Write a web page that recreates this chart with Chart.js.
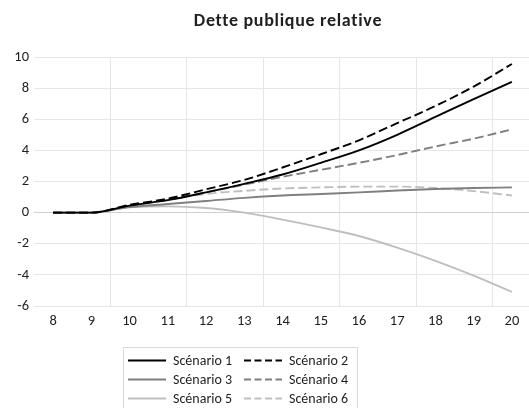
<!DOCTYPE html>
<html>
<head>
<meta charset="utf-8">
<script src="https://cdn.jsdelivr.net/npm/chart.js@4/dist/chart.umd.min.js"></script>
<style>
html,body{margin:0;padding:0;overflow:hidden;background:#fff;}
#wrap{position:absolute;left:0;top:0;width:576px;height:420px;}
</style>
</head>
<body>
<div id="wrap"><canvas id="c"></canvas></div>
<script>
const years = [8, 9, 10, 11, 12, 13, 14, 15, 16, 17, 18, 19, 20];
const seriesNames = ['Scénario 1', 'Scénario 2', 'Scénario 3', 'Scénario 4', 'Scénario 5', 'Scénario 6'];
const scenario1 = [0, 0, 0.45, 0.8, 1.3, 1.85, 2.45, 3.2, 4.0, 5.0, 6.15, 7.3, 8.4];
const scenario2 = [0, 0, 0.5, 0.9, 1.5, 2.1, 2.9, 3.75, 4.65, 5.75, 6.85, 8.1, 9.55];
const scenario3 = [0, 0, 0.35, 0.55, 0.75, 0.95, 1.1, 1.2, 1.3, 1.42, 1.52, 1.58, 1.62];
const scenario4 = [0, 0, 0.45, 0.85, 1.3, 1.8, 2.3, 2.75, 3.2, 3.7, 4.25, 4.75, 5.35];
const scenario5 = [0, 0, 0.35, 0.4, 0.3, 0.0, -0.45, -0.95, -1.5, -2.25, -3.1, -4.05, -5.1];
const scenario6 = [0, 0, 0.45, 0.85, 1.2, 1.4, 1.55, 1.62, 1.67, 1.67, 1.58, 1.38, 1.1];
const yTicks = [-6, -4, -2, 0, 2, 4, 6, 8, 10];
const chartTitle = 'Dette publique relative';

const FONT = 'Carlito, Lato, sans-serif';
const TEXT = '#1f1f1f';

function mk(label, vals, color, dash) {
  return {
    label: label,
    data: years.map((x, i) => ({x: x, y: vals[i]})),
    borderColor: color,
    backgroundColor: color,
    borderWidth: 1.9,
    borderDash: dash,
    pointRadius: 0,
    cubicInterpolationMode: 'monotone',
    fill: false
  };
}

const datasets = [
  mk(seriesNames[0], scenario1, '#000000', []),
  mk(seriesNames[1], scenario2, '#000000', [9, 4]),
  mk(seriesNames[2], scenario3, '#7f7f7f', []),
  mk(seriesNames[3], scenario4, '#7f7f7f', [9, 4]),
  mk(seriesNames[4], scenario5, '#bfbfbf', []),
  mk(seriesNames[5], scenario6, '#bfbfbf', [9, 4])
];

const gridX = years.filter((y, i) => i % 2 === 1).map(y => y + 0.5);

const titleAndLegend = {
  id: 'titleAndLegend',
  afterDraw(chart) {
    const ctx = chart.ctx;
    const ca = chart.chartArea;
    ctx.save();
    // title
    ctx.font = 'bold 18px ' + FONT;
    try { ctx.letterSpacing = '0.7px'; } catch (e) {}
    ctx.fillStyle = TEXT;
    ctx.textAlign = 'center';
    ctx.textBaseline = 'middle';
    ctx.fillText(chartTitle, 288, 21);
    try { ctx.letterSpacing = '0px'; } catch (e) {}
    // legend
    const top = ca.bottom + 41;
    const left = 123, right = 357;
    ctx.strokeStyle = '#d9d9d9';
    ctx.lineWidth = 1;
    ctx.strokeRect(left + 0.5, top + 0.5, right - left, 80);
    ctx.font = '14px ' + FONT;
    ctx.textAlign = 'left';
    ctx.fillStyle = TEXT;
    const colX = [128, 244];
    chart.data.datasets.forEach((ds, i) => {
      const col = i % 2, row = Math.floor(i / 2);
      const y = top + 13.5 + row * 19;
      const x0 = colX[col];
      ctx.beginPath();
      ctx.setLineDash(ds.borderDash && ds.borderDash.length ? [7, 3.5] : []);
      ctx.strokeStyle = ds.borderColor;
      ctx.lineWidth = 1.8;
      ctx.moveTo(x0, y);
      ctx.lineTo(x0 + 38, y);
      ctx.stroke();
      ctx.setLineDash([]);
      ctx.fillText(ds.label, x0 + 45, y + 1);
    });
    ctx.restore();
  }
};

new Chart(document.getElementById('c'), {
  type: 'line',
  data: {datasets: datasets},
  plugins: [titleAndLegend],
  options: {
    responsive: true,
    maintainAspectRatio: false,
    animation: false,
    layout: {padding: {left: 0, right: 45, top: 57, bottom: 84}},
    plugins: {
      legend: {display: false},
      tooltip: {enabled: false},
      title: {display: false}
    },
    scales: {
      x: {
        type: 'linear',
        min: 7.5,
        max: 20.5,
        afterBuildTicks: s => { s.ticks = years.map(v => ({value: v})); },
        afterFit: s => { s.height = 30; },
        grid: {display: false, drawTicks: false},
        border: {display: false},
        ticks: {color: TEXT, font: {family: FONT, size: 14.5}, padding: 7, maxRotation: 0,
                callback: v => String(v)}
      },
      x2: {
        type: 'linear',
        position: 'bottom',
        min: 7.5,
        max: 20.5,
        afterBuildTicks: s => { s.ticks = gridX.map(v => ({value: v})); },
        afterFit: s => { s.height = 0; },
        grid: {display: true, color: '#e6e6e6', lineWidth: 1, drawTicks: false},
        border: {display: false},
        ticks: {display: false}
      },
      y: {
        min: -6,
        max: 10,
        afterBuildTicks: s => { s.ticks = yTicks.map(v => ({value: v})); },
        afterFit: s => { s.width = 34; },
        grid: {color: c => (c.tick && c.tick.value === 0) ? '#d0d0d0' : '#e6e6e6', lineWidth: 1, drawTicks: false},
        border: {display: false},
        ticks: {color: TEXT, font: {family: FONT, size: 14.5}, padding: 5}
      }
    }
  }
});
</script>
</body>
</html>
